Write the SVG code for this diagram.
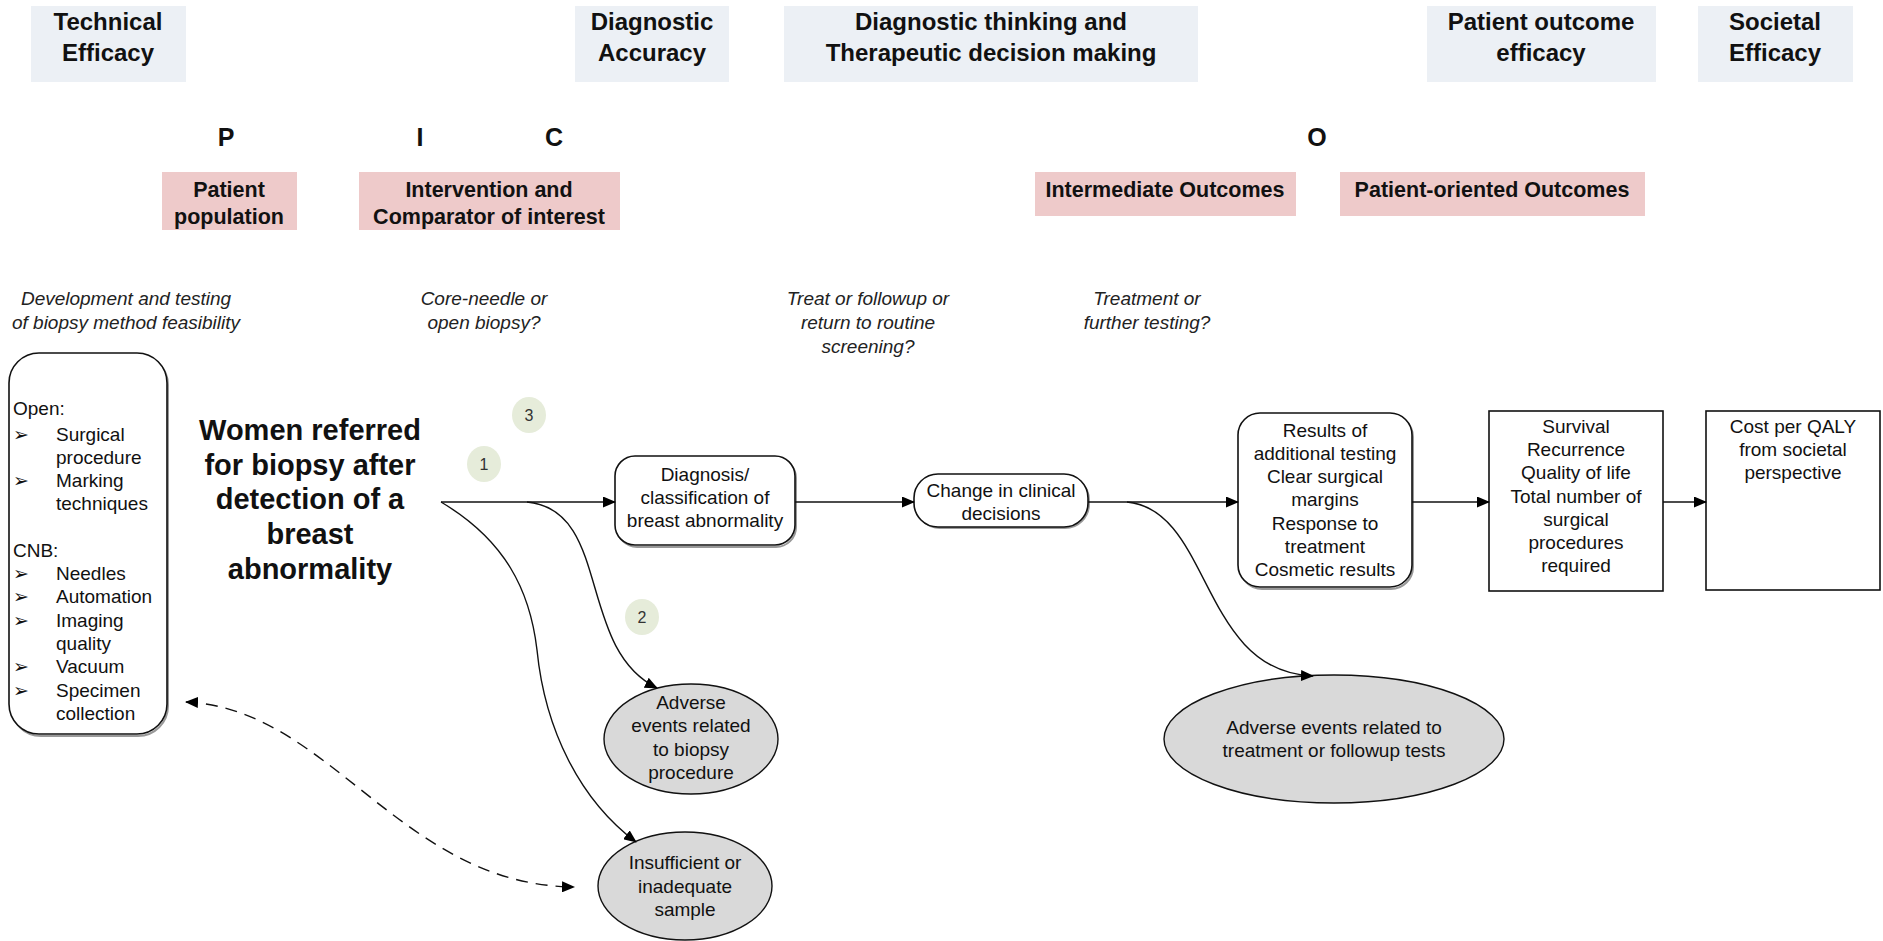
<svg xmlns="http://www.w3.org/2000/svg" width="1883" height="941" viewBox="0 0 1883 941">
<style>
text{font-family:"Liberation Sans",Arial,sans-serif;fill:#111}
.hdr{font-size:24px;font-weight:bold;text-anchor:middle}
.let{font-size:25px;font-weight:bold;text-anchor:middle}
.pk{font-size:21.5px;font-weight:bold;text-anchor:middle}
.it{font-size:19px;font-style:italic;text-anchor:middle;fill:#222}
.nd{font-size:19px;text-anchor:middle}
.lt{font-size:19px}
.big{font-size:29px;font-weight:bold;text-anchor:middle}
.num{font-size:16px;text-anchor:middle;fill:#333}
.hbox{fill:#ECF0F5}
.pbox{fill:#EECACA}
.box{fill:#fff;stroke:#111;stroke-width:1.6}
.shd{fill:none;stroke:#999;stroke-width:2}
.ell{fill:#D9D9D9;stroke:#111;stroke-width:1.4}
.circ{fill:#E6ECDA}
.con{fill:none;stroke:#111;stroke-width:1.4}
</style>
<defs>
<marker id="ah" viewBox="0 0 13 11" refX="12" refY="5.5" markerWidth="13" markerHeight="11" markerUnits="userSpaceOnUse" orient="auto-start-reverse">
<path d="M0,0 L13,5.5 L0,11 Z" fill="#000"/>
</marker>
</defs>
<rect width="1883" height="941" fill="#fff"/>

<g id="hdr-technical"><rect class="hbox" x="31" y="6" width="155" height="76"/><text class="hdr" x="108" y="30">Technical</text><text class="hdr" x="108" y="61">Efficacy</text></g>
<g id="hdr-diagacc"><rect class="hbox" x="575" y="6" width="154" height="76"/><text class="hdr" x="652" y="30">Diagnostic</text><text class="hdr" x="652" y="61">Accuracy</text></g>
<g id="hdr-thinking"><rect class="hbox" x="784" y="6" width="414" height="76"/><text class="hdr" x="991" y="30">Diagnostic thinking and</text><text class="hdr" x="991" y="61">Therapeutic decision making</text></g>
<g id="hdr-patient"><rect class="hbox" x="1427" y="6" width="229" height="76"/><text class="hdr" x="1541" y="30">Patient outcome</text><text class="hdr" x="1541" y="61">efficacy</text></g>
<g id="hdr-societal"><rect class="hbox" x="1698" y="6" width="155" height="76"/><text class="hdr" x="1775" y="30">Societal</text><text class="hdr" x="1775" y="61">Efficacy</text></g>

<g id="letters"><text class="let" x="226" y="146">P</text><text class="let" x="420" y="146">I</text><text class="let" x="554" y="146">C</text><text class="let" x="1317" y="146">O</text></g>

<g id="pk-population"><rect class="pbox" x="162" y="172" width="135" height="58"/><text class="pk" x="229" y="197">Patient</text><text class="pk" x="229" y="224">population</text></g>
<g id="pk-intervention"><rect class="pbox" x="359" y="172" width="261" height="58"/><text class="pk" x="489" y="197">Intervention and</text><text class="pk" x="489" y="224">Comparator of interest</text></g>
<g id="pk-intermediate"><rect class="pbox" x="1035" y="172" width="261" height="44"/><text class="pk" x="1165" y="197">Intermediate Outcomes</text></g>
<g id="pk-patientoriented"><rect class="pbox" x="1340" y="172" width="305" height="44"/><text class="pk" x="1492" y="197">Patient-oriented Outcomes</text></g>

<g id="q-dev"><text class="it" x="126" y="305">Development and testing</text><text class="it" x="126" y="329">of biopsy method feasibility</text></g>
<g id="q-core"><text class="it" x="484" y="305">Core-needle or</text><text class="it" x="484" y="329">open biopsy?</text></g>
<g id="q-treat"><text class="it" x="868" y="305">Treat or followup or</text><text class="it" x="868" y="329">return to routine</text><text class="it" x="868" y="353">screening?</text></g>
<g id="q-treatment"><text class="it" x="1147" y="305">Treatment or</text><text class="it" x="1147" y="329">further testing?</text></g>

<g id="node-methods">
<rect class="shd" x="11" y="355" width="157" height="381" rx="30"/>
<rect class="box" x="9" y="353" width="158" height="381" rx="30"/>
<text class="lt" x="13" y="415">Open:</text>
<text class="lt" x="13" y="441">➢</text><text class="lt" x="56" y="441">Surgical</text>
<text class="lt" x="56" y="464">procedure</text>
<text class="lt" x="13" y="487">➢</text><text class="lt" x="56" y="487">Marking</text>
<text class="lt" x="56" y="510">techniques</text>
<text class="lt" x="13" y="557">CNB:</text>
<text class="lt" x="13" y="580">➢</text><text class="lt" x="56" y="580">Needles</text>
<text class="lt" x="13" y="603">➢</text><text class="lt" x="56" y="603">Automation</text>
<text class="lt" x="13" y="627">➢</text><text class="lt" x="56" y="627">Imaging</text>
<text class="lt" x="56" y="650">quality</text>
<text class="lt" x="13" y="673">➢</text><text class="lt" x="56" y="673">Vacuum</text>
<text class="lt" x="13" y="697">➢</text><text class="lt" x="56" y="697">Specimen</text>
<text class="lt" x="56" y="720">collection</text>
</g>

<g id="node-women"><text class="big" x="310" y="440">Women referred</text><text class="big" x="310" y="475">for biopsy after</text><text class="big" x="310" y="509">detection of a</text><text class="big" x="310" y="544">breast</text><text class="big" x="310" y="579">abnormality</text></g>

<g id="marker-3"><ellipse class="circ" cx="529" cy="415" rx="17" ry="18"/><text class="num" x="529" y="421">3</text></g>
<g id="marker-1"><ellipse class="circ" cx="484" cy="464" rx="17" ry="18"/><text class="num" x="484" y="470">1</text></g>
<g id="marker-2"><ellipse class="circ" cx="642" cy="617" rx="17" ry="18"/><text class="num" x="642" y="623">2</text></g>

<g id="node-diagnosis"><rect class="shd" x="617" y="458" width="179" height="89" rx="20"/><rect class="box" x="615" y="456" width="180" height="89" rx="20"/><text class="nd" x="705" y="481">Diagnosis/</text><text class="nd" x="705" y="504">classification of</text><text class="nd" x="705" y="527">breast abnormality</text></g>
<g id="node-change"><rect class="shd" x="916" y="476" width="173" height="52" rx="24"/><rect class="box" x="914" y="474" width="174" height="53" rx="24"/><text class="nd" x="1001" y="497">Change in clinical</text><text class="nd" x="1001" y="520">decisions</text></g>
<g id="node-results"><rect class="shd" x="1240" y="415" width="173" height="174" rx="22"/><rect class="box" x="1238" y="413" width="174" height="174" rx="22"/>
<text class="nd" x="1325" y="437">Results of</text><text class="nd" x="1325" y="460">additional testing</text><text class="nd" x="1325" y="483">Clear surgical</text><text class="nd" x="1325" y="506">margins</text><text class="nd" x="1325" y="530">Response to</text><text class="nd" x="1325" y="553">treatment</text><text class="nd" x="1325" y="576">Cosmetic results</text></g>
<g id="node-survival"><rect class="box" x="1489" y="411" width="174" height="180"/>
<text class="nd" x="1576" y="433">Survival</text><text class="nd" x="1576" y="456">Recurrence</text><text class="nd" x="1576" y="479">Quality of life</text><text class="nd" x="1576" y="503">Total number of</text><text class="nd" x="1576" y="526">surgical</text><text class="nd" x="1576" y="549">procedures</text><text class="nd" x="1576" y="572">required</text></g>
<g id="node-cost"><rect class="box" x="1706" y="411" width="174" height="179"/><text class="nd" x="1793" y="433">Cost per QALY</text><text class="nd" x="1793" y="456">from societal</text><text class="nd" x="1793" y="479">perspective</text></g>

<g id="node-adverse-biopsy"><ellipse class="ell" cx="691" cy="739" rx="87" ry="55"/><text class="nd" x="691" y="709">Adverse</text><text class="nd" x="691" y="732">events related</text><text class="nd" x="691" y="756">to biopsy</text><text class="nd" x="691" y="779">procedure</text></g>
<g id="node-insufficient"><ellipse class="ell" cx="685" cy="886" rx="87" ry="54"/><text class="nd" x="685" y="869">Insufficient or</text><text class="nd" x="685" y="893">inadequate</text><text class="nd" x="685" y="916">sample</text></g>
<g id="node-adverse-treatment"><ellipse class="ell" cx="1334" cy="739" rx="170" ry="64"/><text class="nd" x="1334" y="734">Adverse events related to</text><text class="nd" x="1334" y="757">treatment or followup tests</text></g>

<g id="connectors">
<path class="con" d="M441,502 H615" marker-end="url(#ah)"/>
<path class="con" d="M795,502 H914" marker-end="url(#ah)"/>
<path class="con" d="M1088,502 H1238" marker-end="url(#ah)"/>
<path class="con" d="M1412,502 H1489" marker-end="url(#ah)"/>
<path class="con" d="M1663,502 H1706" marker-end="url(#ah)"/>
<path class="con" d="M441,502 C505,540 530,590 537,650 C545,730 580,800 636,842" marker-end="url(#ah)"/>
<path class="con" d="M527,502 C612,510 576,648 657,688" marker-end="url(#ah)"/>
<path class="con" d="M1127,502 C1212,510 1200,672 1313,676" marker-end="url(#ah)"/>
<path class="con" d="M186,702 C330,708 400,885 574,887" stroke-dasharray="12,8" stroke-width="1.8" marker-start="url(#ah)" marker-end="url(#ah)"/>
</g>
</svg>
